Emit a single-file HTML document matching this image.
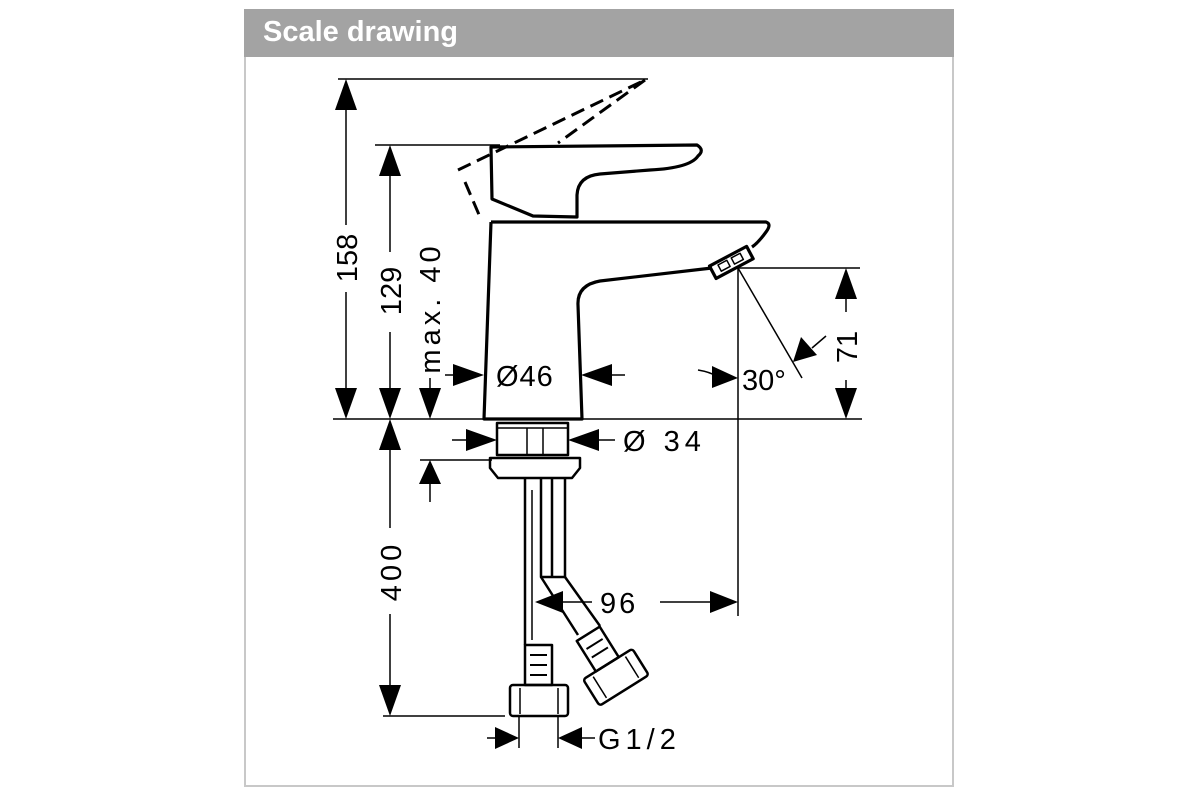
<!DOCTYPE html>
<html><head><style>
html,body{margin:0;padding:0;background:#fff;width:1200px;height:800px;overflow:hidden}
.frame{position:absolute;left:244px;top:9px;width:706px;height:776px;border:2px solid #c8c8c8;border-top:none;box-sizing:content-box}
.hdr{position:absolute;left:244px;top:9px;width:710px;height:48px;background:#a3a3a3}
.hdr span{position:absolute;left:19px;top:7px;font:bold 29px "Liberation Sans",sans-serif;color:#fff}
svg{position:absolute;left:0;top:0}
text{font-family:"Liberation Sans",sans-serif;font-size:29px;fill:#000}
</style></head><body>
<div class="frame"></div>
<div class="hdr"><span>Scale drawing</span></div>
<svg width="1200" height="800" viewBox="0 0 1200 800">
<g stroke="#000" stroke-width="1.5" fill="none">
<line x1="338" y1="79" x2="648" y2="79"/>
<line x1="375" y1="145" x2="500" y2="145"/>
<line x1="333" y1="419" x2="862" y2="419"/>
<line x1="738" y1="268" x2="860" y2="268"/>
<line x1="738" y1="268" x2="738" y2="616"/>
<line x1="383" y1="716" x2="505" y2="716"/>
<line x1="420" y1="460" x2="492" y2="460"/>
<line x1="519" y1="716" x2="519" y2="748"/>
<line x1="558" y1="716" x2="558" y2="748"/>
<line x1="738" y1="268" x2="802" y2="378"/>
<line x1="346" y1="110" x2="346" y2="225"/><line x1="346" y1="292" x2="346" y2="390"/>
<line x1="390" y1="175" x2="390" y2="252"/><line x1="390" y1="332" x2="390" y2="390"/>
<line x1="430" y1="378" x2="430" y2="392"/>
<line x1="390" y1="450" x2="390" y2="528"/><line x1="390" y1="614" x2="390" y2="690"/>
<line x1="846" y1="298" x2="846" y2="312"/><line x1="846" y1="380" x2="846" y2="392"/>
<line x1="445" y1="375" x2="462" y2="375"/><line x1="602" y1="375" x2="625" y2="375"/>
<line x1="452" y1="440" x2="475" y2="440"/><line x1="590" y1="440" x2="615" y2="440"/>
<line x1="430" y1="482" x2="430" y2="502"/>
<line x1="556" y1="602" x2="592" y2="602"/><line x1="660" y1="602" x2="716" y2="602"/>
<line x1="487" y1="738" x2="497" y2="738"/><line x1="580" y1="738" x2="595" y2="738"/>
<path d="M698,370 Q710,372 716,376"/>
<line x1="826" y1="336" x2="812" y2="348"/>
</g>
<g fill="#000">
<path d="M346,79 l-11,31 h22z"/><path d="M346,419 l-11,-31 h22z"/>
<path d="M390,145 l-11,31 h22z"/><path d="M390,419 l-11,-31 h22z"/>
<path d="M430,419 l-11,-31 h22z"/>
<path d="M390,419 l-11,31 h22z"/><path d="M390,716 l-11,-31 h22z"/>
<path d="M846,268 l-11,31 h22z"/><path d="M846,419 l-11,-31 h22z"/>
<path d="M484,375 l-31,-11 v22z"/><path d="M581,375 l31,-11 v22z"/>
<path d="M497,440 l-31,-11 v22z"/><path d="M568,440 l31,-11 v22z"/>
<path d="M430,460 l-11,24 h22z"/>
<path d="M535,602 l28,-11 v22z"/><path d="M738,602 l-28,-11 v22z"/>
<path d="M519,738 l-24,-11 v22z"/><path d="M558,738 l24,-11 v22z"/>
<path d="M738,378 l-26,-12 v22z"/>
<path d="M793,362 l8,-25 l16,18z"/>
</g>
<g stroke="#000" stroke-width="3.2" fill="none" stroke-linejoin="round">
<path d="M491,222 L484,419 L582,419 L578,305 Q577,285 600,281 L712,268"/>
<path d="M491,222 L766,222 Q772,224 766,232 Q758,243 752,247"/>
<path d="M491,147 L697,145 Q705,150 698,156 Q690,168 650,170 L600,174 Q578,176 577,195 L577,217 L533,216 L492,199 Z"/>
<g transform="rotate(-28 730 262)"><rect x="710" y="256" width="42" height="14"/><rect x="718" y="259" width="10" height="7" stroke-width="1.5"/><rect x="733" y="259" width="10" height="7" stroke-width="1.5"/></g>
<rect x="497" y="423" width="71" height="32" stroke-width="2.5"/>
<line x1="497" y1="428" x2="568" y2="428" stroke-width="1.5"/>
<line x1="527" y1="428" x2="527" y2="455" stroke-width="1.5"/>
<line x1="543" y1="428" x2="543" y2="455" stroke-width="1.5"/>
<path d="M490,458 H580 V468 L572,478 H498 L490,468 Z" stroke-width="2.5"/>
<path d="M525,478 V645 M552,478 V577 M541,478 V577 H565 V478" stroke-width="2.5"/>
<line x1="532" y1="490" x2="532" y2="640" stroke-width="1.5"/>
<rect x="525" y="645" width="27" height="40" stroke-width="2.5"/>
<line x1="530" y1="655" x2="547" y2="655" stroke-width="2"/>
<line x1="530" y1="665" x2="547" y2="665" stroke-width="2"/>
<line x1="530" y1="675" x2="547" y2="675" stroke-width="2"/>
<rect x="510" y="685" width="58" height="31" rx="3" stroke-width="2.5"/>
<line x1="520" y1="688" x2="520" y2="714" stroke-width="1.5"/><line x1="558" y1="688" x2="558" y2="714" stroke-width="1.5"/>
<path d="M541,577 L578,635 M565,577 L600,626" stroke-width="2.5"/>
<g transform="rotate(-32 609 668)">
<rect x="596" y="628" width="27" height="36" stroke-width="2.5"/>
<line x1="600" y1="640" x2="619" y2="640" stroke-width="2"/>
<line x1="600" y1="650" x2="619" y2="650" stroke-width="2"/>
<rect x="581" y="664" width="58" height="31" rx="3" stroke-width="2.5"/>
<line x1="591" y1="667" x2="591" y2="692" stroke-width="1.5"/><line x1="629" y1="667" x2="629" y2="692" stroke-width="1.5"/>
</g>
</g>
<g stroke="#000" stroke-width="3" fill="none" stroke-dasharray="14,7">
<path d="M458,170 L645,80"/>
<path d="M645,80 L558,143"/>
<path d="M465,182 L480,217"/>
</g>
<text transform="translate(357,258) rotate(-90)" text-anchor="middle">158</text>
<text transform="translate(401,291) rotate(-90)" text-anchor="middle">129</text>
<text transform="translate(440,308) rotate(-90)" text-anchor="middle" letter-spacing="4">max. 40</text>
<text transform="translate(401,571) rotate(-90)" text-anchor="middle" letter-spacing="4">400</text>
<text transform="translate(857,347) rotate(-90)" text-anchor="middle">71</text>
<text x="496" y="386" letter-spacing="1">Ø46</text>
<text x="742" y="390">30°</text>
<text x="623" y="451" letter-spacing="5">Ø 34</text>
<text x="600" y="613" letter-spacing="3">96</text>
<text x="598" y="749" letter-spacing="5">G1/2</text>
</svg>
</body></html>
